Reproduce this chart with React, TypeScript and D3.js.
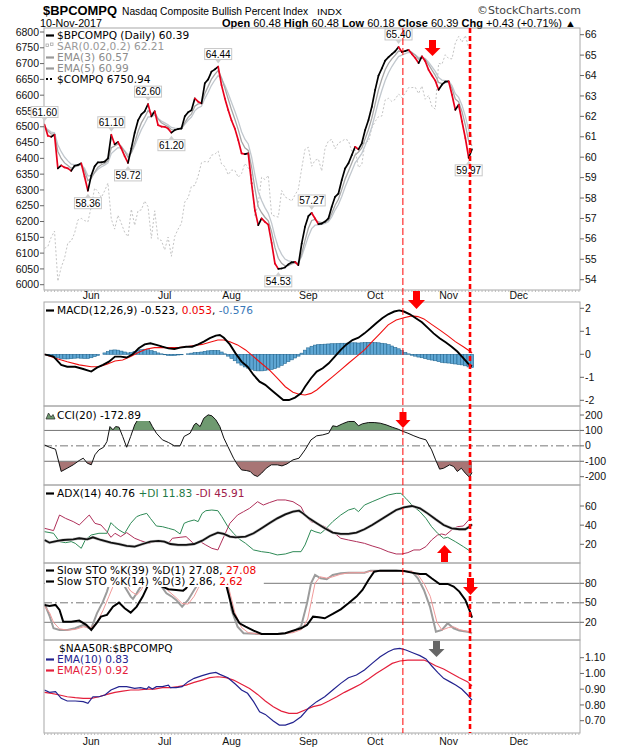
import React from "react";
import * as d3 from "d3";

// ---------------- data ----------------
const monthLabels = ["Jun", "Jul", "Aug", "Sep", "Oct", "Nov", "Dec"];
const monthStartIdx = [14, 36, 56, 79, 99, 121, 142];

const bpClose = [
  61.6, 61.05, 61.0, 61.1, 59.45, 59.6, 59.5, 59.45, 59.33, 59.58,
  59.62, 59.7, 59.04, 58.36, 59.1, 59.55, 59.75, 59.75, 59.78, 59.94,
  61.1, 60.63, 60.75, 60.43, 60.05, 59.72, 60.43, 61.2, 61.8, 62.1,
  62.25, 62.6, 62.0, 62.25, 61.57, 61.5, 61.49, 61.4, 61.2, 61.33,
  61.38, 61.41, 62.0, 62.2, 62.3, 62.88, 62.72, 62.64, 63.62, 63.81,
  64.19, 64.3, 64.44, 63.53, 62.88, 62.31, 61.8, 61.4, 60.84, 60.19,
  60.15, 60.19, 58.72, 57.4, 56.67, 57.0, 56.83, 56.7, 55.8, 54.79,
  54.53, 54.55, 54.6, 54.75, 54.85, 54.87, 54.71, 55.77, 56.59, 57.11,
  57.27, 57.0, 56.72, 56.75, 56.85, 57.0, 57.57, 58.06, 58.22, 58.88,
  59.45, 59.7, 60.1, 60.51, 60.38, 60.68, 61.33, 61.82, 62.47, 63.3,
  64.0, 64.35, 64.73, 64.9, 65.05, 65.19, 65.4, 65.15, 65.2, 65.26,
  65.05, 64.86, 64.61, 64.94, 64.7, 64.28, 64.0, 63.75, 63.3, 63.55,
  63.7, 63.72, 63.06, 62.32, 62.57, 61.75, 60.94, 59.97, 60.39,
];
const bpEma3 = [
  61.5, 61.28, 61.14, 61.12, 60.28, 59.94, 59.72, 59.59, 59.46, 59.52,
  59.57, 59.63, 59.34, 58.85, 58.97, 59.26, 59.51, 59.63, 59.7, 59.82,
  60.46, 60.55, 60.65, 60.54, 60.29, 60.0, 60.22, 60.71, 61.26, 61.68,
  61.96, 62.28, 62.14, 62.2, 61.88, 61.69, 61.59, 61.5, 61.35, 61.34,
  61.36, 61.38, 61.69, 61.95, 62.12, 62.5, 62.61, 62.63, 63.12, 63.47,
  63.83, 64.06, 64.25, 63.89, 63.39, 62.85, 62.32, 61.86, 61.35, 60.77,
  60.46, 60.33, 59.52, 58.46, 57.57, 57.28, 57.06, 56.88, 56.34, 55.57,
  55.05, 54.8, 54.68, 54.69, 54.77, 54.82, 54.76, 55.27, 55.93, 56.52,
  56.9, 56.95, 56.83, 56.79, 56.82, 56.91, 57.24, 57.65, 57.94, 58.41,
  58.93, 59.31, 59.71, 60.11, 60.25, 60.46, 60.9, 61.36, 61.91, 62.61,
  63.3, 63.83, 64.28, 64.59, 64.82, 65.0, 65.2, 65.18, 65.19, 65.22,
  65.14, 65.0, 64.8, 64.87, 64.79, 64.53, 64.27, 64.01, 63.66, 63.6,
  63.65, 63.68, 63.37, 62.85, 62.71, 62.23, 61.58, 60.78, 60.57,
];
const bpEma5 = [
  61.5, 61.35, 61.23, 61.19, 60.61, 60.27, 60.01, 59.82, 59.66, 59.63,
  59.63, 59.65, 59.45, 59.09, 59.09, 59.24, 59.41, 59.52, 59.61, 59.72,
  60.18, 60.33, 60.47, 60.46, 60.32, 60.12, 60.22, 60.55, 60.97, 61.35,
  61.65, 61.97, 61.98, 62.07, 61.9, 61.77, 61.68, 61.59, 61.46, 61.42,
  61.41, 61.41, 61.61, 61.81, 61.97, 62.27, 62.42, 62.49, 62.87, 63.18,
  63.52, 63.78, 64.0, 63.84, 63.52, 63.12, 62.68, 62.25, 61.78, 61.25,
  60.88, 60.65, 60.01, 59.14, 58.32, 57.88, 57.53, 57.25, 56.77, 56.11,
  55.58, 55.24, 55.01, 54.92, 54.9, 54.89, 54.83, 55.14, 55.62, 56.12,
  56.5, 56.67, 56.69, 56.71, 56.76, 56.84, 57.08, 57.41, 57.68, 58.08,
  58.54, 58.93, 59.32, 59.72, 59.94, 60.19, 60.57, 60.99, 61.48, 62.09,
  62.73, 63.27, 63.76, 64.14, 64.44, 64.69, 64.93, 65.0, 65.07, 65.13,
  65.1, 65.02, 64.88, 64.9, 64.83, 64.65, 64.43, 64.2, 63.9, 63.78,
  63.75, 63.74, 63.51, 63.11, 62.93, 62.54, 62.01, 61.33, 60.99,
];
const compq = [
  6115, 6121, 6150, 6170, 6011, 6055, 6084, 6133, 6138, 6163,
  6205, 6210, 6203, 6199, 6247, 6306, 6295, 6276, 6297, 6322,
  6208, 6176, 6220, 6194, 6166, 6152, 6239, 6188, 6234, 6237,
  6265, 6247, 6147, 6234, 6144, 6140, 6110, 6151, 6090, 6153,
  6176, 6194, 6262, 6275, 6312, 6314, 6344, 6386, 6390, 6388,
  6410, 6413, 6423, 6382, 6374, 6348, 6363, 6362, 6340, 6352,
  6384, 6370, 6352, 6217, 6256, 6340, 6333, 6346, 6221, 6217,
  6214, 6298, 6278, 6272, 6265, 6284, 6302, 6368, 6429, 6435,
  6375, 6394, 6398, 6360, 6432, 6455, 6460, 6430, 6449, 6454,
  6461, 6456, 6423, 6427, 6371, 6380, 6454, 6453, 6496, 6517,
  6532, 6534, 6585, 6590, 6580, 6587, 6604, 6592, 6606, 6624,
  6624, 6625, 6605, 6629, 6587, 6599, 6564, 6556, 6701, 6698,
  6728, 6716, 6715, 6765, 6786, 6768, 6789, 6750, 6751,
];
const calloutIdx = [0, 13, 20, 25, 31, 38, 52, 70, 80, 106, 127];
const calloutSide = ["hi", "lo", "hi", "lo", "hi", "lo", "hi", "lo", "hi", "hi", "lo"];

const macdLine = [
  [0, 0], [2.7, -0.1], [5, -0.46], [6.8, -0.54], [9.2, -0.54], [11.6, -0.64], [14, -0.75],
  [15.7, -0.58], [17.5, -0.46], [19.3, -0.32], [21.1, -0.1], [22.8, -0.1], [24.6, -0.14],
  [26.4, 0], [28.2, 0.26], [30, 0.43], [31.7, 0.48], [33.5, 0.41], [35.3, 0.33], [37.1, 0.26],
  [38.9, 0.23], [40.6, 0.29], [42.4, 0.33], [44.2, 0.33], [46, 0.43], [47.7, 0.55], [49.5, 0.7],
  [51.3, 0.81], [52.5, 0.84], [53.7, 0.72], [55.5, 0.43], [57.2, 0.04], [59, -0.32], [60.8, -0.54],
  [62.6, -0.9], [64.4, -1.19], [66.1, -1.33], [67.9, -1.55], [69.7, -1.77], [71.5, -1.99],
  [73.2, -1.99], [75, -1.88], [76.8, -1.7], [78, -1.41], [79.8, -1.04], [81.5, -0.75],
  [83.3, -0.61], [85.1, -0.39], [86.9, -0.1], [88.7, 0.19], [90.4, 0.43], [92.2, 0.62], [94, 0.72],
  [95.8, 0.91], [97.6, 1.13], [99.3, 1.35], [101.1, 1.57], [102.9, 1.74], [104.7, 1.86],
  [106.2, 1.91], [107.6, 1.86], [109.4, 1.74], [111.2, 1.57], [113, 1.39], [114.7, 1.16],
  [116.5, 0.91], [118.3, 0.7], [120.1, 0.52], [121.9, 0.33], [123.6, 0.12], [125.4, -0.17],
  [127.2, -0.46], [128, -0.523],
];
const macdSignal = [
  [0, 0], [3.3, -0.17], [6.8, -0.32], [10.4, -0.46], [14, -0.54], [16.3, -0.54], [18.7, -0.43],
  [21.1, -0.29], [23.4, -0.25], [25.8, -0.1], [28.2, 0.09], [30.6, 0.23], [32.9, 0.29],
  [35.3, 0.29], [37.7, 0.29], [40, 0.29], [42.4, 0.33], [44.8, 0.38], [47.2, 0.43], [49.5, 0.52],
  [51.9, 0.62], [53.7, 0.62], [55.5, 0.55], [57.8, 0.41], [60.2, 0.19], [62.6, -0.1], [64.9, -0.39],
  [67.3, -0.68], [69.7, -1.04], [72.1, -1.41], [74.4, -1.65], [76.2, -1.74], [78, -1.77],
  [79.8, -1.7], [81.5, -1.55], [83.9, -1.26], [86.3, -0.97], [88.7, -0.68], [91, -0.39],
  [93.4, -0.1], [95.8, 0.19], [98.1, 0.55], [100.5, 0.91], [102.9, 1.28], [105.3, 1.49],
  [107.6, 1.59], [110, 1.67], [111.8, 1.64], [113.6, 1.54], [115.9, 1.3], [118.3, 1.06],
  [120.7, 0.81], [123, 0.55], [125.4, 0.33], [127.8, 0.09], [128, 0.053],
];
const macdHist = [
  0, -0.02, -0.05, -0.1, -0.15, -0.18, -0.2, -0.2, -0.19, -0.17,
  -0.16, -0.17, -0.18, -0.18, -0.15, -0.1, -0.05, 0, 0.06, 0.12,
  0.18, 0.19, 0.18, 0.14, 0.1, 0.06, 0.08, 0.12, 0.17, 0.2,
  0.22, 0.2, 0.16, 0.12, 0.06, 0.02, -0.02, -0.05, -0.06, -0.05,
  -0.03, -0.02, 0, 0.02, 0.05, 0.07, 0.08, 0.1, 0.13, 0.15,
  0.17, 0.17, 0.16, 0.1, 0.02, -0.08, -0.18, -0.28, -0.38, -0.47,
  -0.55, -0.6, -0.65, -0.7, -0.72, -0.72, -0.7, -0.68, -0.66, -0.62,
  -0.56, -0.48, -0.4, -0.32, -0.24, -0.16, -0.08, 0.05, 0.18, 0.28,
  0.35, 0.4, 0.42, 0.43, 0.44, 0.45, 0.46, 0.46, 0.47, 0.48,
  0.48, 0.49, 0.5, 0.5, 0.49, 0.5, 0.51, 0.52, 0.52, 0.51,
  0.5, 0.48, 0.46, 0.42, 0.36, 0.3, 0.24, 0.16, 0.08, 0.02,
  -0.04, -0.08, -0.12, -0.15, -0.19, -0.22, -0.25, -0.28, -0.32, -0.35,
  -0.37, -0.38, -0.4, -0.42, -0.44, -0.46, -0.5, -0.55, -0.576,
];
const cciLine = [
  [0, 6], [1.5, -9], [3.3, -22], [5, -166], [6.8, -145], [8.6, -123], [10.4, -95], [11.6, -80],
  [12.8, -112], [14, -123], [15.1, -58], [16.3, -26], [17.7, -9], [18.7, 28], [19.6, 125],
  [20.5, 104], [21.3, 125], [22.3, 121], [23.4, 61], [24.6, -9], [25.8, 61], [27, 136], [28.2, 179],
  [29.4, 179], [31.2, 169], [32.3, 125], [33.5, 82], [35.3, 39], [37.1, 22], [38.9, 0], [40.6, 0],
  [41.8, 61], [43.6, 82], [44.8, 136], [45.4, 147], [46.6, 125], [47.7, 179], [49, 201], [50.1, 195],
  [51.3, 169], [52.5, 125], [53.7, 50], [54.9, -4], [56.6, -80], [57.8, -123], [59, -156],
  [60.4, -160], [61.6, -166], [62.6, -188], [63.8, -199], [65, -177], [66.4, -145], [67.9, -123],
  [69.7, -123], [71.1, -130], [72.6, -117], [74.4, -91], [76.2, -80], [78, -26], [79.8, 39],
  [81.5, 65], [83.3, 71], [85.1, 82], [86.3, 130], [87.5, 125], [89.2, 143], [91, 158], [92.8, 158],
  [94, 130], [95.2, 143], [97, 151], [98.7, 151], [100.5, 147], [102.3, 136], [104.1, 121],
  [105.9, 108], [107.4, 93], [108.8, 82], [110.6, 65], [112.4, 50], [114.2, 39], [115.9, -26],
  [117.1, -91], [118.3, -151], [119.5, -145], [121.3, -123], [122.5, -134], [123.6, -166],
  [124.8, -145], [126, -177], [127.2, -203], [128, -172.89],
];
const adxLine = [
  [0, 24.5], [1.5, 21.7], [3.9, 23.5], [5.6, 24.5], [8.6, 25.2], [10.4, 26.3], [12.8, 25.2],
  [14.5, 27.3], [16.9, 24.5], [19.9, 21.7], [22.3, 20.3], [24.6, 18.3], [27, 17.6], [29.4, 20.3],
  [31.7, 22.8], [34.1, 23.5], [35.9, 22.8], [37.7, 20.3], [40, 19.3], [42.4, 19.3], [44.8, 20.3],
  [47.2, 23.8], [49.5, 28.7], [51.9, 32.2], [53.7, 30.8], [55.5, 28], [57.2, 27.3], [60.2, 28],
  [62.6, 31.5], [65, 36.7], [67.3, 41.9], [69.7, 47.1], [72.1, 51.3], [74.4, 54.1], [76.2, 55.1],
  [77.4, 52.3], [79.2, 47.1], [81.5, 41.9], [83.9, 36.7], [86.3, 32.2], [88.7, 30.8], [91, 30.8],
  [93.4, 32.2], [95.8, 35.7], [98.1, 40.2], [100.5, 45.4], [102.9, 50.6], [105.3, 55.8],
  [107.6, 58.6], [110, 60], [112.4, 57.6], [114.7, 52.3], [117.1, 46.1], [119.5, 40.2],
  [121.9, 36.7], [124.2, 35.7], [126, 35.7], [127.2, 38.4], [128, 40.76],
];
const plusDI = [
  [0, 33.2], [2.7, 31.5], [4.5, 22.8], [6.3, 21.7], [8, 22.8], [9.2, 21], [11, 15.8], [12.2, 24.5],
  [14, 29.7], [16.3, 31.5], [18.7, 31.5], [19.9, 42.6], [21.1, 38.4], [22.3, 35], [24, 31.5],
  [25.8, 41.9], [27.6, 48.9], [28.8, 50.6], [30.6, 52.3], [31.7, 47.1], [33.5, 39.1], [35.3, 38.4],
  [37.1, 36.7], [38.9, 35], [40.6, 30.8], [41.8, 41.9], [43, 43.7], [44.8, 45.4], [46, 43.7],
  [47.2, 52.3], [48.3, 55.1], [50.1, 55.8], [51.9, 55.1], [53.1, 48.9], [54.9, 38.4], [56.6, 31.5],
  [58.4, 25.2], [60.2, 21], [62.6, 14.1], [65, 12.3], [67.3, 11.3], [69.7, 8.9], [72.1, 9.9],
  [74.4, 12.3], [76.8, 12.3], [78, 19.3], [79.8, 35], [81, 33.2], [82.7, 31.5], [83.9, 35],
  [86.3, 43.7], [88.7, 50.6], [91, 55.8], [92.8, 57.6], [94, 54.1], [95.8, 61], [98.1, 64.5],
  [100.5, 68], [102.9, 71.5], [105.3, 73.2], [106.7, 73.2], [108.2, 68], [110, 61], [112.4, 54.1],
  [114.2, 47.1], [115.9, 38.4], [117.7, 31.5], [119.5, 26.3], [120.7, 27.3], [123, 22.8],
  [125.4, 17.6], [127.2, 13.4], [128, 11.83],
];
const minusDI = [
  [0, 36.7], [2.7, 34.3], [4.5, 50.6], [6.3, 47.1], [8.6, 43.7], [10.4, 40.2], [13.4, 50.6],
  [15.1, 41.9], [16.9, 40.2], [18.7, 33.2], [19.9, 27.3], [21.1, 31.5], [22.8, 28], [24.6, 32.2],
  [27, 26.3], [28.8, 23.8], [31.1, 21], [32.9, 22.8], [35.3, 22.8], [37.1, 21], [38.3, 26.3],
  [40.6, 27.3], [42.4, 28], [44.8, 20.3], [46.6, 22.8], [48.3, 19.3], [50.1, 15.8], [51.9, 14.1],
  [53.7, 28], [55.5, 41.9], [57.8, 50.6], [59.6, 54.1], [61.4, 57.6], [63.8, 64.5], [65.5, 61],
  [67.3, 63.5], [69.7, 66.3], [72.1, 66.3], [74.4, 64.5], [76.8, 59.3], [78, 50.6], [79.8, 43.7],
  [81.5, 41.9], [83.9, 38.4], [86.3, 33.2], [88.7, 26.3], [91, 24.5], [93.4, 22.8], [95.8, 21],
  [98.1, 18.3], [100.5, 15.8], [102.9, 12.3], [105.3, 9.9], [107, 9.9], [108.8, 11.3], [110.6, 14.1],
  [112.4, 14.1], [114.2, 17.6], [115.9, 24.5], [117.7, 29.7], [118.9, 30.8], [120.1, 29.7],
  [121.9, 35], [123.6, 38.4], [125.4, 39.1], [127.2, 46.1], [128, 45.91],
];
const stoK39 = [
  [0, 46.7], [1.5, 45.1], [3.3, 46.7], [4.5, 39], [5.6, 21], [8, 21], [10.4, 22.6], [12.5, 16],
  [14, 8.2], [15.7, 19.5], [16.9, 28.7], [18.7, 31.3], [20.5, 44.1], [22.3, 50.3], [24, 41.5],
  [25.8, 34.9], [27.6, 44.1], [29.4, 59.5], [30.8, 74.9], [32, 86], [33.5, 84], [35.3, 74.9],
  [37.1, 70.8], [39.4, 69.7], [41.5, 68.7], [42.4, 72.3], [43.5, 82], [45, 92], [47, 97], [49, 99],
  [51, 99], [52.5, 97], [53.7, 91.3], [54.9, 67.2], [56.6, 33.8], [58.4, 18.5], [60.2, 13.3],
  [62.6, 7.2], [65, 2.1], [67.3, 2.1], [69.7, 2.1], [72.1, 3.1], [74.4, 7.2], [76.8, 10.8],
  [78.6, 15.9], [80.4, 28.7], [82.1, 27.7], [83.9, 26.2], [86.3, 32.8], [88.7, 40], [91, 49.2],
  [93.4, 59.5], [95.2, 69.7], [97, 85.1], [98.7, 97.9], [100.5, 99.5], [105.3, 99.5], [107.6, 99],
  [110, 96.4], [112.4, 94.4], [114.2, 94.4], [115.9, 87.7], [118.3, 79], [120.7, 79], [122.5, 74.9],
  [124.2, 67.2], [126, 54.4], [127.2, 39], [128, 27.08],
];
const stoK14 = [
  [0, 49], [1.5, 30], [2.7, 10.8], [4.5, 8.2], [6.8, 8.2], [9.2, 10.8], [11.6, 15.9], [13, 12],
  [14, 10.8], [15.7, 33.8], [17.5, 51.8], [18.7, 67.2], [19.3, 77.4], [20.5, 92], [21.5, 96],
  [22.5, 93], [24, 74.9], [25.8, 59.5], [26.5, 56], [27.6, 64.6], [28.8, 74.9], [29.5, 90], [31, 98],
  [32, 95], [33.5, 90], [34.7, 77.4], [36.5, 64.6], [38, 60], [39.4, 54.4], [41.2, 44.1], [43, 54.4],
  [44.8, 69.7], [46, 79], [47, 92], [49, 97], [51, 98], [53, 98], [54.3, 95.4], [56, 39],
  [57.8, 13.3], [59.6, 3.1], [63.8, 2.1], [69.7, 2.1], [72, 3], [74.4, 5.6], [76.8, 13.3],
  [78.6, 49.2], [79.8, 80], [81, 92.8], [82.7, 87.7], [84.5, 86.2], [86.3, 92.8], [88.7, 95.4],
  [91, 96.4], [95.8, 96.4], [97.6, 99.5], [105.3, 99.5], [110, 98], [111.8, 87.7], [113.6, 69.7],
  [115.4, 44.1], [117.2, 5.6], [119, 8.2], [120.7, 18.5], [122.5, 10.8], [124.2, 7.2],
  [126.6, 5.6], [128, 2.86],
];
const stoD3 = [
  [0, 45], [1.5, 35], [2.7, 20], [4.5, 10], [6.8, 8], [9.2, 9], [11.6, 13], [14, 12], [15.7, 20],
  [17.5, 38], [19.3, 60], [20.5, 75], [22, 88], [24, 82], [25.8, 68], [27.6, 62], [29, 70],
  [30.5, 85], [32, 95], [34, 92], [35.3, 80], [36.7, 70], [39.4, 58], [41.2, 49], [43, 48],
  [44.8, 60], [46, 72], [47.5, 85], [49, 94], [51, 97], [54, 97], [55.3, 70], [57, 35], [59, 12],
  [61, 4], [64, 2], [70, 2], [74.4, 4], [77, 9], [78.8, 25], [80, 55], [81, 80], [82.5, 90],
  [84.5, 88], [86.3, 90], [88.7, 94], [91, 96], [95.8, 96.5], [97.6, 98.5], [105, 99.5],
  [110, 98.5], [112, 92], [113.8, 78], [115.5, 60], [117.5, 20], [119, 8], [121, 12], [122.5, 13],
  [124.2, 9], [126.6, 6], [128, 2.62],
];
const ratioEma10 = [
  [0, 0.895], [1.5, 0.88], [3.3, 0.884], [5, 0.842], [6.8, 0.825], [9.2, 0.825], [11.6, 0.821],
  [13, 0.81], [14.5, 0.852], [16.3, 0.852], [18.1, 0.863], [19.9, 0.895], [22.3, 0.916],
  [24.6, 0.916], [27, 0.905], [28.8, 0.91], [30.6, 0.901], [31.2, 0.916], [32.3, 0.901],
  [33.5, 0.916], [35.3, 0.916], [37.1, 0.926], [37.7, 0.91], [39.4, 0.91], [41.2, 0.916],
  [43, 0.948], [44.8, 0.969], [47.2, 0.986], [49.5, 1.0], [51.3, 1.007], [52.5, 0.994],
  [54.9, 0.973], [57.2, 0.931], [59, 0.895], [60.8, 0.874], [62.6, 0.821], [64.4, 0.757],
  [66.1, 0.74], [68.5, 0.698], [70.3, 0.672], [72.1, 0.672], [74.4, 0.689], [76.8, 0.725],
  [79.2, 0.783], [81.5, 0.821], [83.9, 0.852], [86.3, 0.895], [88.7, 0.937], [91, 0.973],
  [93.4, 0.99], [95.8, 1.022], [98.1, 1.064], [100.5, 1.106], [102.9, 1.138], [104.7, 1.155],
  [106.4, 1.159], [108.2, 1.149], [110.6, 1.128], [112.4, 1.113], [114.2, 1.092], [115.9, 1.049],
  [117.7, 1.007], [119.5, 0.969], [121.3, 0.948], [123.1, 0.926], [124.9, 0.901], [126.7, 0.863],
  [128, 0.83],
];
const ratioEma25 = [
  [0, 0.88], [2.1, 0.874], [4.5, 0.863], [6.8, 0.852], [9.2, 0.846], [11.6, 0.842], [14, 0.842],
  [16.3, 0.852], [18.7, 0.867], [21.1, 0.88], [23.4, 0.888], [25.8, 0.895], [28.2, 0.895],
  [30.6, 0.901], [32.9, 0.901], [35.3, 0.91], [37.7, 0.91], [40, 0.916], [42.4, 0.926],
  [44.8, 0.943], [47.2, 0.958], [49.5, 0.973], [51.9, 0.979], [54.3, 0.973], [56.6, 0.958],
  [59, 0.931], [61.4, 0.905], [63.8, 0.867], [66.1, 0.825], [68.5, 0.789], [70.9, 0.761],
  [73.2, 0.747], [75.6, 0.747], [78, 0.768], [80.4, 0.789], [82.7, 0.8], [85.1, 0.825],
  [87.5, 0.852], [89.8, 0.88], [92.2, 0.905], [94.6, 0.931], [97, 0.965], [99.3, 1.0],
  [101.7, 1.032], [104.1, 1.064], [106.4, 1.079], [108.8, 1.085], [111.2, 1.085], [113.6, 1.085],
  [115.3, 1.07], [117.1, 1.049], [119.5, 1.028], [121.9, 1.0], [124.2, 0.973], [126.6, 0.948],
  [128, 0.92],
];
// annotation positions (trading-day index)
const markerLineIdx = [107.3, 127.4];

// ---------------- layout ----------------
const W = 620;
const H = 750;
const PL = 44;
const PR = 580;
const P = {
  main: { t: 28, b: 290 },
  macd: { t: 302, b: 406 },
  cci: { t: 406, b: 485 },
  adx: { t: 485, b: 563 },
  sto: { t: 563, b: 640 },
  ratio: { t: 640, b: 733 },
};
const FONT = "'DejaVu Sans', Verdana, sans-serif";
const AXF = "'Liberation Sans', Arial, sans-serif";
const BORDER = "#a8a8a8";
const LFS = 10.6;

const x = d3.scaleLinear().domain([0, 160.5]).range([44.5, 44.5 + 160.5 * 3.34]);
const yPrice = d3.scaleLinear().domain([54, 66]).range([279.7, 34.7]);
const yComp = d3.scaleLinear().domain([6000, 6800]).range([284.7, 32]);
const yMacd = d3.scaleLinear().domain([-2, 2]).range([400.3, 308.3]);
const yCci = d3.scaleLinear().domain([-200, 200]).range([476.7, 415]);
const yAdx = d3.scaleLinear().domain([20, 60]).range([544.3, 506]);
const ySto = d3.scaleLinear().domain([20, 80]).range([622.3, 583.3]);
const yRatio = d3.scaleLinear().domain([0.7, 1.1]).range([720.7, 657.7]);

const pairLine = (ys: any) =>
  d3.line<number[]>().x((d) => x(d[0])).y((d) => ys(d[1]));
const seriesLine = (ys: any) =>
  d3.line<number>().x((_, i) => x(i)).y((d) => ys(d));

function Frame({ p }: { p: { t: number; b: number } }) {
  return <rect x={PL} y={p.t} width={PR - PL} height={p.b - p.t} fill="none" stroke={BORDER} strokeWidth={1} />;
}

function RightTicks({ ys, vals, fmt }: any) {
  return (
    <g>
      {vals.map((v: number) => (
        <g key={v}>
          <line x1={PR} x2={PR + 4} y1={ys(v)} y2={ys(v)} stroke="#666" />
          <text x={PR + 5} y={ys(v) + 3.6} fontSize={10.5} fontFamily={AXF} fill="#111">
            {fmt ? fmt(v) : v}
          </text>
        </g>
      ))}
    </g>
  );
}

type Part = { t: string; c: string };
function LegendRow({ y, parts, marker, mColor, tx = 57, w }: any) {
  const len = parts.reduce((s: number, p: Part) => s + p.t.length, 0);
  const width = w ?? len * 6.4 + 14;
  return (
    <g>
      <rect x={PL + 1} y={y - 9} width={width} height={11} fill="#fff" />
      {marker === "line" && <line x1={46} x2={54} y1={y - 3.5} y2={y - 3.5} stroke={mColor} strokeWidth={2.2} />}
      {marker === "dots" && (
        <g fill={mColor}>
          <rect x={46} y={y - 5} width={2} height={2} />
          <rect x={50} y={y - 5} width={2} height={2} />
        </g>
      )}
      {marker === "sq" && (
        <g fill="none" stroke={mColor} strokeWidth={0.8}>
          <rect x={46} y={y - 6} width={2.5} height={2.5} />
          <rect x={50.5} y={y - 7} width={2.5} height={2.5} />
        </g>
      )}
      <text x={tx} y={y} fontSize={LFS} fontFamily={FONT} xmlSpace="preserve">
        {parts.map((p: Part, i: number) => (
          <tspan key={i} fill={p.c}>
            {p.t}
          </tspan>
        ))}
      </text>
    </g>
  );
}

function Arrow({ cx, y0, y1, dir, color, sw = 7, hw = 17, hh = 9 }: any) {
  let d;
  if (dir === "down") {
    const ys = y1 - hh;
    d = `M${cx - sw / 2},${y0}H${cx + sw / 2}V${ys}H${cx + hw / 2}L${cx},${y1}L${cx - hw / 2},${ys}H${cx - sw / 2}Z`;
  } else {
    const ys = y0 + hh;
    d = `M${cx - sw / 2},${y1}H${cx + sw / 2}V${ys}H${cx + hw / 2}L${cx},${y0}L${cx - hw / 2},${ys}H${cx - sw / 2}Z`;
  }
  return <path d={d} fill={color} />;
}

export default function App() {
  const n = bpClose.length;
  const segs = [];
  for (let i = 1; i < n; i++) {
    const down = bpClose[i] < bpClose[i - 1];
    segs.push(
      <line
        key={i}
        x1={x(i - 1)}
        y1={yPrice(bpClose[i - 1])}
        x2={x(i)}
        y2={yPrice(bpClose[i])}
        stroke={down ? "#e8001c" : "#000"}
        strokeWidth={1.7}
        strokeLinecap="round"
      />
    );
  }

  const leftTicks = d3.range(6000, 6801, 50);
  const rightPriceTicks = d3.range(54, 67, 1);

  const cciArea = d3
    .area<number[]>()
    .x((d) => x(d[0]))
    .y1((d) => yCci(d[1]));

  const dayTicks = d3.range(0, 161, 1);

  const monthAxis = (yText: number) => (
    <g>
      {monthLabels.map((m, k) => (
        <text key={m} x={x(monthStartIdx[k])} y={yText} textAnchor="middle" fontSize={10.5} fontFamily={AXF} fill="#111">
          {m}
        </text>
      ))}
    </g>
  );

  return (
    <svg width={W} height={H} viewBox={`0 0 ${W} ${H}`} style={{ display: "block", position: "absolute", left: 0, top: 0, background: "#fff" }}>
      <defs>
        {Object.entries(P).map(([k, p]) => (
          <clipPath id={`clip-${k}`} key={k}>
            <rect x={PL} y={p.t} width={PR - PL} height={p.b - p.t} />
          </clipPath>
        ))}
        <clipPath id="clip-cci-up">
          <rect x={PL} y={P.cci.t} width={PR - PL} height={yCci(100) - P.cci.t} />
        </clipPath>
        <clipPath id="clip-cci-dn">
          <rect x={PL} y={yCci(-100)} width={PR - PL} height={P.cci.b - yCci(-100)} />
        </clipPath>
      </defs>
      <rect x={0} y={0} width={W} height={H} fill="#fff" />

      {/* ---------- header ---------- */}
      <text x={43} y={14.5} fontSize={13} fontWeight="bold" fontFamily={AXF} textLength={74} lengthAdjust="spacingAndGlyphs">
        $BPCOMPQ
      </text>
      <text x={122} y={14.5} fontSize={10} fontFamily={AXF} textLength={186} lengthAdjust="spacingAndGlyphs">
        Nasdaq Composite Bullish Percent Index
      </text>
      <text x={317} y={14.5} fontSize={9} fontFamily={AXF} textLength={25} lengthAdjust="spacingAndGlyphs">
        INDX
      </text>
      <text x={581} y={14} textAnchor="end" fontSize={10.5} fontFamily={FONT} fill="#444" textLength={104} lengthAdjust="spacingAndGlyphs">
        ©StockCharts.com
      </text>
      <text x={40} y={26.5} fontSize={10} fontFamily={AXF} textLength={62} lengthAdjust="spacingAndGlyphs">
        10-Nov-2017
      </text>
      <text x={222} y={26.5} fontSize={10} fontFamily={AXF} textLength={354} lengthAdjust="spacingAndGlyphs" xmlSpace="preserve">
        <tspan fontWeight="bold">Open</tspan> 60.48 <tspan fontWeight="bold">High</tspan> 60.48 <tspan fontWeight="bold">Low</tspan> 60.18{" "}
        <tspan fontWeight="bold">Close</tspan> 60.39 <tspan fontWeight="bold">Chg</tspan> +0.43 (+0.71%) ▲
      </text>

      {/* ---------- main panel ---------- */}
      <g clipPath="url(#clip-main)">
        <path d={seriesLine(yComp)(compq) || ""} fill="none" stroke="#c4c4c4" strokeWidth={1} strokeDasharray="2,2" />
        <path d={seriesLine(yPrice)(bpEma5) || ""} fill="none" stroke="#c2c8ce" strokeWidth={1.3} />
        <path d={seriesLine(yPrice)(bpEma3) || ""} fill="none" stroke="#a6a6a6" strokeWidth={1.3} />
        {segs}
      </g>
      <Frame p={P.main} />
      {leftTicks.map((v) => (
        <g key={v}>
          <line x1={PL - 4} x2={PL} y1={yComp(v)} y2={yComp(v)} stroke="#666" />
          <text x={PL - 5} y={yComp(v) + 3.6} textAnchor="end" fontSize={10.5} fontFamily={AXF} fill="#111">
            {v}
          </text>
        </g>
      ))}
      <RightTicks ys={yPrice} vals={rightPriceTicks} />
      {calloutIdx.map((idx, k) => {
        const px = x(idx);
        const py = yPrice(bpClose[idx]);
        const hi = calloutSide[k] === "hi";
        const bw = 27;
        const bh = 11;
        const by = hi ? py - 7 - bh : py + 7;
        const bx = Math.max(px - bw / 2, 26);
        const tri = hi
          ? `M${px - 3},${py - 7}L${px + 3},${py - 7}L${px},${py - 3}Z`
          : `M${px - 3},${py + 7}L${px + 3},${py + 7}L${px},${py + 3}Z`;
        return (
          <g key={idx}>
            <rect x={bx} y={by} width={bw} height={bh} fill="#fff" stroke="#c8c8c8" strokeWidth={1} />
            <path d={tri} fill="#d0d0d0" />
            <text x={bx + bw / 2} y={by + 9} textAnchor="middle" fontSize={10} fontFamily={AXF} fill="#000">
              {bpClose[idx].toFixed(2)}
            </text>
          </g>
        );
      })}
      <LegendRow y={39} marker="line" mColor="#000" parts={[{ t: "$BPCOMPQ (Daily) 60.39", c: "#000" }]} />
      <LegendRow y={50} marker="sq" mColor="#aaa" parts={[{ t: "SAR(0.02,0.2) 62.21", c: "#999" }]} />
      <LegendRow y={61} marker="line" mColor="#999" parts={[{ t: "EMA(3) 60.57", c: "#8c8c8c" }]} />
      <LegendRow y={72} marker="line" mColor="#999" parts={[{ t: "EMA(5) 60.99", c: "#8c8c8c" }]} />
      <LegendRow y={83} marker="dots" mColor="#000" parts={[{ t: "$COMPQ 6750.94", c: "#000" }]} />
      {dayTicks.map((i) => (
        <line key={i} x1={x(i)} x2={x(i)} y1={P.main.b} y2={P.main.b + 2} stroke="#bbb" />
      ))}
      {monthAxis(299)}

      {/* ---------- MACD ---------- */}
      <g clipPath="url(#clip-macd)">
        {macdHist.map((v, i) => (
          <rect
            key={i}
            x={x(i) - 1.67}
            width={3.34}
            y={Math.min(yMacd(v), yMacd(0))}
            height={Math.abs(yMacd(v) - yMacd(0))}
            fill="#5ea6d3"
            stroke="#276a94"
            strokeWidth={0.6}
          />
        ))}
        <path d={pairLine(yMacd)(macdSignal as any) || ""} fill="none" stroke="#f01010" strokeWidth={1.1} />
        <path d={pairLine(yMacd)(macdLine as any) || ""} fill="none" stroke="#000" strokeWidth={1.9} />
      </g>
      <Frame p={P.macd} />
      <RightTicks ys={yMacd} vals={[2, 1, 0, -1, -2]} />
      <LegendRow
        y={314}
        marker="line"
        mColor="#000"
        parts={[
          { t: "MACD(12,26,9) -0.523, ", c: "#000" },
          { t: "0.053", c: "#e00" },
          { t: ", ", c: "#000" },
          { t: "-0.576", c: "#3a78b8" },
        ]}
      />

      {/* ---------- CCI ---------- */}
      <g clipPath="url(#clip-cci)">
        <g clipPath="url(#clip-cci-up)">
          <path d={cciArea.y0(yCci(100))(cciLine as any) || ""} fill="#6f9a70" />
        </g>
        <g clipPath="url(#clip-cci-dn)">
          <path d={cciArea.y0(yCci(-100))(cciLine as any) || ""} fill="#a87575" />
        </g>
        {[100, -100].map((v) => (
          <line key={v} x1={PL} x2={PR} y1={yCci(v)} y2={yCci(v)} stroke="#777" strokeWidth={1} />
        ))}
        <line x1={PL} x2={PR} y1={yCci(0)} y2={yCci(0)} stroke="#777" strokeWidth={1} strokeDasharray="8,3,2,3" />
        <path d={pairLine(yCci)(cciLine as any) || ""} fill="none" stroke="#111" strokeWidth={1} />
      </g>
      <Frame p={P.cci} />
      <RightTicks ys={yCci} vals={[200, 100, 0, -100, -200]} />
      <g>
        <rect x={PL + 1} y={410} width={108} height={11} fill="#fff" />
        <path d="M46,419 L48.5,413 L51,417 L53,414.5 L55,419 Z" fill="#6f9a70" stroke="#222" strokeWidth={0.7} />
        <text x={57} y={419} fontSize={LFS} fontFamily={FONT}>CCI(20) -172.89</text>
      </g>

      {/* ---------- ADX ---------- */}
      <g clipPath="url(#clip-adx)">
        <path d={pairLine(yAdx)(minusDI as any) || ""} fill="none" stroke="#b0305a" strokeWidth={1} />
        <path d={pairLine(yAdx)(plusDI as any) || ""} fill="none" stroke="#2e8a56" strokeWidth={1} />
        <path d={pairLine(yAdx)(adxLine as any) || ""} fill="none" stroke="#ccc" strokeWidth={3} />
        <path d={pairLine(yAdx)(adxLine as any) || ""} fill="none" stroke="#111" strokeWidth={1.8} />
      </g>
      <Frame p={P.adx} />
      <RightTicks ys={yAdx} vals={[60, 40, 20]} />
      <LegendRow
        y={497}
        marker="line"
        mColor="#000"
        parts={[
          { t: "ADX(14) 40.76 ", c: "#000" },
          { t: "+DI 11.83 ", c: "#1f7a46" },
          { t: "-DI 45.91", c: "#a0204a" },
        ]}
      />

      {/* ---------- Slow STO ---------- */}
      <g clipPath="url(#clip-sto)">
        {[80, 20].map((v) => (
          <line key={v} x1={PL} x2={PR} y1={ySto(v)} y2={ySto(v)} stroke="#777" strokeWidth={1} />
        ))}
        <line x1={PL} x2={PR} y1={ySto(50)} y2={ySto(50)} stroke="#777" strokeWidth={1} strokeDasharray="8,3,2,3" />
        <path d={pairLine(ySto)(stoK14 as any) || ""} fill="none" stroke="#9c9c9c" strokeWidth={2} />
        <path d={pairLine(ySto)(stoD3 as any) || ""} fill="none" stroke="#f29a9a" strokeWidth={1} />
        <path d={pairLine(ySto)(stoK39 as any) || ""} fill="none" stroke="#000" strokeWidth={2} />
      </g>
      <Frame p={P.sto} />
      <RightTicks ys={ySto} vals={[80, 50, 20]} />
      <LegendRow
        y={574}
        marker="line"
        mColor="#000"
        parts={[
          { t: "Slow STO %K(39) %D(1) 27.08, ", c: "#000" },
          { t: "27.08", c: "#e00" },
        ]}
      />
      <LegendRow
        y={585}
        marker="line"
        mColor="#000"
        parts={[
          { t: "Slow STO %K(14) %D(3) 2.86, ", c: "#000" },
          { t: "2.62", c: "#e00" },
        ]}
      />

      {/* ---------- ratio ---------- */}
      <g clipPath="url(#clip-ratio)">
        <path d={pairLine(yRatio)(ratioEma25 as any) || ""} fill="none" stroke="#e4203c" strokeWidth={1.2} />
        <path d={pairLine(yRatio)(ratioEma10 as any) || ""} fill="none" stroke="#23238f" strokeWidth={1.2} />
      </g>
      <Frame p={P.ratio} />
      <RightTicks ys={yRatio} vals={[1.1, 1.0, 0.9, 0.8, 0.7]} fmt={(v: number) => v.toFixed(2)} />
      <LegendRow y={652} tx={59} parts={[{ t: "$NAA50R:$BPCOMPQ", c: "#000" }]} />
      <LegendRow y={663} tx={57} marker="line" mColor="#23238f" parts={[{ t: "EMA(10) 0.83", c: "#23238f" }]} />
      <LegendRow y={674} tx={57} marker="line" mColor="#e4203c" parts={[{ t: "EMA(25) 0.92", c: "#e4203c" }]} />
      {dayTicks.map((i) => (
        <line key={i} x1={x(i)} x2={x(i)} y1={P.ratio.b} y2={P.ratio.b + 2} stroke="#bbb" />
      ))}
      {monthAxis(745)}

      {/* ---------- annotations ---------- */}
      <line x1={x(markerLineIdx[0])} x2={x(markerLineIdx[0])} y1={P.main.t} y2={P.ratio.b} stroke="#f00" strokeWidth={1} strokeDasharray="7,3" />
      <line x1={x(markerLineIdx[1])} x2={x(markerLineIdx[1])} y1={P.main.t} y2={P.ratio.b} stroke="#f00" strokeWidth={2.6} strokeDasharray="5,3" />
      <Arrow cx={432.5} y0={40} y1={56} dir="down" color="#f00" sw={7} hw={16} hh={8} />
      <Arrow cx={416.5} y0={291} y1={309} dir="down" color="#f00" sw={7} hw={17} hh={9} />
      <Arrow cx={403} y0={412} y1={428} dir="down" color="#f00" sw={7} hw={15} hh={8} />
      <Arrow cx={444.5} y0={545} y1={562} dir="up" color="#f00" sw={7} hw={15} hh={8} />
      <Arrow cx={470.5} y0={578} y1={595} dir="down" color="#f00" sw={7} hw={15} hh={8} />
      <Arrow cx={436.5} y0={641} y1={657} dir="down" color="#666" sw={7} hw={16} hh={8} />
    </svg>
  );
}
